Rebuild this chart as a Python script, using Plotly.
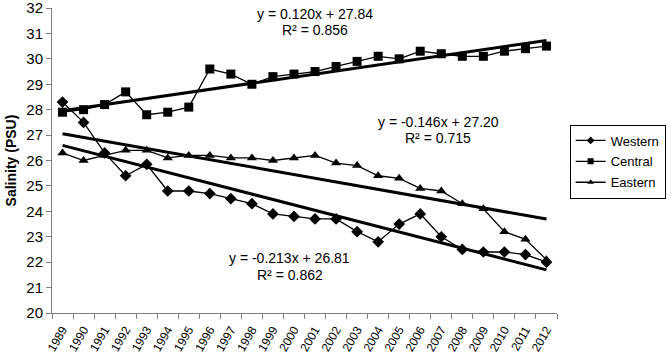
import plotly.graph_objects as go

years = [str(y) for y in range(1989, 2013)]
western = [28.3, 27.5, 26.3, 25.4, 25.85, 24.8, 24.8, 24.7, 24.5, 24.3, 23.9, 23.8,
           23.7, 23.7, 23.2, 22.8, 23.5, 23.9, 23.0, 22.5, 22.4, 22.4, 22.3, 22.0]
central = [27.9, 28.0, 28.2, 28.7, 27.8, 27.9, 28.1, 29.6, 29.4, 29.0, 29.3, 29.4,
           29.5, 29.7, 29.9, 30.1, 30.0, 30.3, 30.2, 30.1, 30.1, 30.3, 30.4, 30.5]
eastern = [26.3, 26.0, 26.2, 26.4, 26.4, 26.1, 26.2, 26.2, 26.1, 26.1, 26.0, 26.1,
           26.2, 25.9, 25.8, 25.4, 25.3, 24.9, 24.8, 24.3, 24.1, 23.2, 22.9, 22.1]

# trendline coefficients (slope, intercept) as printed on the chart
trend_western = (-0.213, 26.81)
trend_central = (0.120, 27.84)
trend_eastern = (-0.146, 27.20)

FONT = "Liberation Sans, Arial, sans-serif"

fig = go.Figure()

def trend(coef):
    m, b = coef
    return [m * (i + 1) + b for i in range(len(years))]

for coef in (trend_western, trend_central, trend_eastern):
    fig.add_trace(go.Scatter(x=years, y=trend(coef), mode="lines",
                             line=dict(color="black", width=3), showlegend=False,
                             hoverinfo="skip"))

series = (("Western", western, "diamond"),
          ("Central", central, "square"),
          ("Eastern", eastern, "triangle-up"))
for name, vals, sym in series:
    fig.add_trace(go.Scatter(x=years, y=vals, name=name, mode="lines+markers",
                             legendgroup=name, showlegend=False,
                             line=dict(color="black", width=1.3),
                             marker=dict(symbol=sym, size=9, color="black")))
# legend entries with smaller symbols, as in the original
for name, vals, sym in series:
    fig.add_trace(go.Scatter(x=[None], y=[None], name=name, mode="lines+markers",
                             legendgroup=name, showlegend=True,
                             line=dict(color="black", width=1.3),
                             marker=dict(symbol=sym, size=6, color="black")))

ann = [
    (12.0, 31.76, "y = 0.120x + 27.84"), (12.0, 31.13, "R² = 0.856"),
    (17.85, 27.51, "y = -0.146x + 27.20"), (17.85, 26.9, "R² = 0.715"),
    (10.8, 22.16, "y = -0.213x + 26.81"), (10.8, 21.49, "R² = 0.862"),
]
for x, y, t in ann:
    fig.add_annotation(x=x, y=y, text=t, showarrow=False, xref="x", yref="y",
                       font=dict(family=FONT, size=14, color="black"))

fig.update_layout(
    width=671, height=356,
    margin=dict(l=52, r=114, t=8, b=43, autoexpand=False),
    paper_bgcolor="white", plot_bgcolor="white",
    font=dict(family=FONT, color="black"),
    legend=dict(x=1.025, y=0.618, xanchor="left", yanchor="top",
                bordercolor="black", borderwidth=1, font=dict(size=13, family=FONT),
                tracegroupgap=1, itemwidth=30),
)
fig.update_xaxes(type="category", range=[-0.5, len(years) - 0.5], automargin=False,
                 showline=True, linecolor="#808080", linewidth=1,
                 ticks="outside", tickson="boundaries", ticklen=5, tickcolor="#808080",
                 tickangle=-60, tickfont=dict(size=12, family=FONT), ticklabelstandoff=4,
                 showgrid=False, zeroline=False)
fig.update_yaxes(range=[20, 32], tickvals=list(range(20, 33)), automargin=False,
                 ticklabeloverflow="allow",
                 showline=True, linecolor="#808080", linewidth=1,
                 ticks="outside", ticklen=5, tickcolor="#808080",
                 tickfont=dict(size=15, family=FONT), showgrid=False, zeroline=False,
                 title=dict(text="<b>Salinity (PSU)</b>", font=dict(size=14, family=FONT),
                            standoff=6))

fig.write_html("out.html", config={"displayModeBar": False},
               post_script="document.body.style.margin='0';document.body.style.overflow='hidden';")
